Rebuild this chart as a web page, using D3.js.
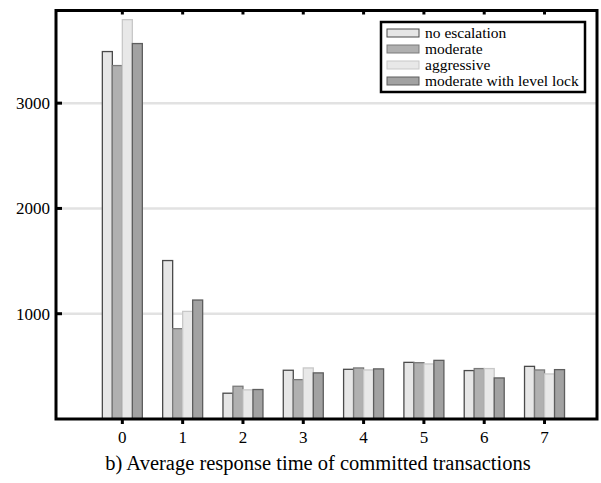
<!DOCTYPE html>
<html>
<head>
<script src="https://cdn.jsdelivr.net/npm/d3@7"></script>
<style>
  svg text { font-family: 'Liberation Serif', serif !important; }
</style>
</head>
<body style="margin:0">
<div id="chart"></div>
<script>
let categories = [0, 1, 2, 3, 4, 5, 6, 7];
let seriesNames = ["no escalation", "moderate", "aggressive", "moderate with level lock"];
let noEscalation = [3490, 1505, 245, 463, 472, 538, 460, 500];
let moderate = [3357, 858, 311, 374, 485, 535, 479, 466];
let aggressive = [3793, 1022, 277, 485, 466, 523, 479, 428];
let moderateLock = [3566, 1130, 280, 438, 476, 557, 390, 469];
let yTicks = [1000, 2000, 3000];
let caption = "b) Average response time of committed transactions";

let series = [noEscalation, moderate, aggressive, moderateLock];
let fills = ["#e6e6e6", "#b0b0b0", "#e8e8e8", "#a2a2a2"];
let strokes = ["#4a4a4a", "#7a7a7a", "#c8c8c8", "#5e5e5e"];

let width = 601, height = 483;
let plotLeft = 56, plotRight = 597, plotTop = 10.5, plotBottom = 419;
let fontName = "Liberation Serif";

let svg = d3.select("#chart").append("svg")
  .attr("width", width)
  .attr("height", height)
  .attr("font-family", fontName);

let x = d3.scaleLinear().domain([-1.1, 7.87]).range([plotLeft, plotRight]);
let y = d3.scaleLinear().domain([0, 3880]).range([plotBottom, plotTop]);

let barW = 10;

// grid lines
svg.selectAll(".grid").data(yTicks).enter().append("line")
  .attr("x1", plotLeft).attr("x2", plotRight)
  .attr("y1", d => y(d)).attr("y2", d => y(d))
  .attr("stroke", "#e2e2e2").attr("stroke-width", 2.5);

// bars
for (let s = 0; s < series.length; s++) {
  svg.selectAll(".bar" + s).data(series[s]).enter().append("rect")
    .attr("x", (d, i) => x(categories[i]) - 2 * barW + s * barW)
    .attr("y", d => y(d))
    .attr("width", barW)
    .attr("height", d => y(0) - y(d))
    .attr("fill", fills[s])
    .attr("stroke", strokes[s])
    .attr("stroke-width", 1.3);
}

// frame
svg.append("rect")
  .attr("x", plotLeft).attr("y", plotTop)
  .attr("width", plotRight - plotLeft).attr("height", plotBottom - plotTop)
  .attr("fill", "none").attr("stroke", "#000").attr("stroke-width", 3);

// y axis ticks (inward) and labels
svg.selectAll(".ytick").data(yTicks).enter().append("line")
  .attr("x1", plotLeft).attr("x2", plotLeft + 6)
  .attr("y1", d => y(d)).attr("y2", d => y(d))
  .attr("stroke", "#000").attr("stroke-width", 3);

svg.selectAll(".ylab").data(yTicks).enter().append("text")
  .attr("x", plotLeft - 6)
  .attr("y", d => y(d) + 6)
  .attr("text-anchor", "end")
  .attr("font-size", 17)
  .text(d => d);

// x ticks bottom (outward) and top (inward)
svg.selectAll(".xtickb").data(categories).enter().append("line")
  .attr("x1", d => x(d)).attr("x2", d => x(d))
  .attr("y1", plotBottom).attr("y2", plotBottom + 5)
  .attr("stroke", "#000").attr("stroke-width", 3);

svg.selectAll(".xtickt").data(categories).enter().append("line")
  .attr("x1", d => x(d)).attr("x2", d => x(d))
  .attr("y1", plotTop).attr("y2", plotTop + 4)
  .attr("stroke", "#000").attr("stroke-width", 3);

svg.selectAll(".xlab").data(categories).enter().append("text")
  .attr("x", d => x(d))
  .attr("y", plotBottom + 24)
  .attr("text-anchor", "middle")
  .attr("font-size", 17)
  .text(d => d);

// legend
let lg = svg.append("g").attr("transform", "translate(381,22)");
lg.append("rect")
  .attr("width", 204).attr("height", 70)
  .attr("fill", "#fff").attr("stroke", "#000").attr("stroke-width", 2.5);

seriesNames.forEach(function (name, i) {
  lg.append("rect")
    .attr("x", 6).attr("y", 7 + i * 16)
    .attr("width", 32).attr("height", 8)
    .attr("fill", fills[i]).attr("stroke", strokes[i]).attr("stroke-width", 1);
  lg.append("text")
    .attr("x", 44).attr("y", 16 + i * 16)
    .attr("font-size", 15.5)
    .text(name);
});

// caption
svg.append("text")
  .attr("x", 318).attr("y", 470)
  .attr("text-anchor", "middle")
  .attr("font-size", 20.5)
  .text(caption);
</script>
</body>
</html>
